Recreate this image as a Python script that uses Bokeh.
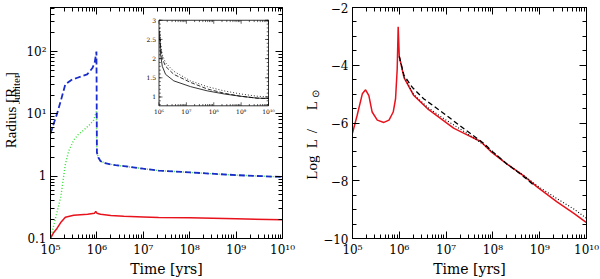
import numpy as np
from bokeh.plotting import figure
from bokeh.layouts import row
from bokeh.models import FixedTicker, LogAxis, LinearAxis, Range1d, LogScale, LinearScale
from bokeh.core.properties import value
from bokeh.embed import file_html
from bokeh.resources import INLINE

# ---------------- data ----------------
x_ticks = [1e5, 1e6, 1e7, 1e8, 1e9, 1e10]
x_tick_labels = ["10⁵", "10⁶", "10⁷", "10⁸", "10⁹", "10¹⁰"]
r_ticks = [0.1, 1.0, 10.0, 100.0]
r_tick_labels = ["0.1", "1", "10¹", "10²"]
l_ticks = [-10, -8, -6, -4, -2]
l_tick_labels = ["−10", "−8", "−6", "−4", "−2"]

# left panel: radius (log10 time, R_Jupiter)
red_r_logt = [5.0, 5.07, 5.14, 5.22, 5.32, 5.5, 5.8, 5.95, 5.975, 6.0, 6.08, 6.3, 6.58, 7.0, 7.33, 8.0, 9.0, 10.0]
red_r_val = [0.10, 0.125, 0.145, 0.18, 0.22, 0.236, 0.245, 0.255, 0.272, 0.255, 0.245, 0.235, 0.227, 0.222, 0.218, 0.215, 0.207, 0.200]

blue_r_logt = [5.0, 5.07, 5.14, 5.23, 5.32, 5.45, 5.58, 5.7, 5.79, 5.9, 5.95, 5.99, 5.995, 6.0, 6.03, 6.08, 6.2, 6.4, 6.58, 7.0, 7.33, 8.0, 9.0, 10.0]
blue_r_val = [4.8, 7.0, 10.0, 17.0, 30.0, 35.0, 38.0, 41.0, 43.0, 54.0, 65.0, 100.0, 20.0, 2.4, 2.0, 1.74, 1.6, 1.5, 1.45, 1.32, 1.23, 1.15, 1.04, 0.97]

green_r_logt = [5.0, 5.1, 5.22, 5.32, 5.39, 5.5, 5.6, 5.72, 5.85, 5.93, 5.99, 5.995, 6.0, 6.03, 6.08, 6.2, 6.4, 6.58, 7.0, 7.33, 8.0, 9.0, 10.0]
green_r_val = [0.10, 0.2, 0.46, 1.55, 2.5, 3.8, 4.7, 5.5, 6.8, 7.9, 11.0, 5.0, 2.4, 2.0, 1.74, 1.6, 1.5, 1.45, 1.32, 1.23, 1.15, 1.04, 0.97]

# inset (log10 time, R_Jupiter)
inset_x_ticks = [1e6, 1e7, 1e8, 1e9, 1e10]
inset_x_labels = ["10⁶", "10⁷", "10⁸", "10⁹", "10¹⁰"]
inset_y_ticks = [1.0, 1.5, 2.0, 2.5, 3.0]
inset_y_labels = ["1", "1.5", "2", "2.5", "3"]
inset_y_min, inset_y_max = 0.77, 3.0
inset_logt = [6.02, 6.06, 6.12, 6.24, 6.54, 7.15, 7.76, 8.37, 8.97, 9.58, 10.0]
inset_solid = [2.6, 2.1, 1.8, 1.59, 1.42, 1.27, 1.16, 1.08, 1.02, 0.97, 0.96]
inset_dashed = [2.7, 2.3, 2.0, 1.80, 1.59, 1.38, 1.21, 1.10, 1.02, 0.97, 0.96]
inset_dotted = [2.8, 2.4, 2.1, 1.89, 1.67, 1.42, 1.27, 1.16, 1.08, 1.02, 1.00]

# right panel: luminosity (log10 time, log L/Lsun)
red_l_logt = [5.0, 5.1, 5.21, 5.28, 5.35, 5.42, 5.53, 5.67, 5.78, 5.87, 5.92, 5.955, 5.976, 6.0, 6.1, 6.31, 6.6,
              6.88, 7.16, 7.45, 7.74, 7.95, 8.31, 8.66, 8.95, 9.37, 9.73, 10.0]
red_l_val = [-6.35, -5.73, -4.99, -4.85, -5.05, -5.62, -5.90, -5.98, -5.90, -5.62, -5.16, -4.14, -2.67, -3.69, -4.43,
             -5.05, -5.50, -5.84, -6.18, -6.41, -6.64, -6.98, -7.43, -7.83, -8.22, -8.73, -9.13, -9.45]
dash_l_logt = [6.0, 6.1, 6.28, 6.52, 6.95, 7.45, 7.8, 8.0, 8.3, 8.6, 8.85]
dash_l_val = [-3.69, -4.35, -4.77, -5.16, -5.67, -6.28, -6.70, -7.00, -7.42, -7.78, -8.12]
dot_l_logt = [6.0, 6.1, 6.3, 6.6, 6.95, 7.45, 7.8, 8.3, 8.66, 8.95, 9.37, 9.73, 10.0]
dot_l_val = [-3.72, -4.40, -5.00, -5.45, -5.85, -6.36, -6.75, -7.42, -7.82, -8.18, -8.62, -8.98, -9.30]

# y-axis titles, split into normal and subscript parts
r_title = ["Radius [R", "Jupiter", "]"]
l_title = ["Log", "L", "/", "L", "⊙"]

# ---------------- styling ----------------
SERIF = "DejaVu Serif"
TSERIF = "Liberation Serif"
RED = "#e8121c"
BLUE = "#1a2ccc"
GREEN = "#30e030"
H = 279
LAB_W = 20


def log_minor(decades):
    return [m * d for d in decades[:-1] for m in range(2, 10)]


def style_axis(ax, ticks, minor, labels=None, show=True):
    ax.ticker = FixedTicker(ticks=ticks, minor_ticks=minor)
    ax.major_tick_in = 7
    ax.major_tick_out = 0
    ax.minor_tick_in = 4
    ax.minor_tick_out = 0
    ax.axis_line_color = "black"
    ax.major_tick_line_color = "black"
    ax.minor_tick_line_color = "black"
    ax.major_label_text_font = SERIF
    ax.major_label_text_color = "black"
    ax.axis_label_text_font = SERIF
    ax.axis_label_text_font_style = "normal"
    ax.axis_label_text_font_size = "14px"
    ax.axis_label_text_color = "black"
    ax.axis_label_standoff = 1
    if show:
        ax.major_label_text_font_size = "12px"
        ax.major_label_standoff = 4
        if labels is not None:
            ax.major_label_overrides = {float(t): s for t, s in zip(ticks, labels)}
    else:
        ax.major_label_text_font_size = "1px"
        ax.major_label_text_alpha = 0
        ax.major_label_standoff = 0


def make_fig(y_type, y_range, bl, br):
    p = figure(width=300 - LAB_W, height=H, x_axis_type="log", y_axis_type=y_type,
               x_range=Range1d(1e5, 1e10), y_range=y_range,
               output_backend="svg", toolbar_location=None,
               min_border_left=bl, min_border_right=br, min_border_top=7, min_border_bottom=37)
    p.grid.visible = False
    p.outline_line_color = "black"
    p.outline_line_width = 1
    p.background_fill_color = "white"
    p.border_fill_color = "white"
    return p


def label_strip(parts, xs, ys, sizes):
    """Narrow strip holding a vertical axis title (pixel coordinates, y measured from top)."""
    s = figure(width=LAB_W, height=H, x_range=Range1d(0, LAB_W), y_range=Range1d(H, 0),
               output_backend="svg", toolbar_location=None,
               min_border_left=0, min_border_right=0, min_border_top=0, min_border_bottom=0)
    s.axis.visible = False
    s.grid.visible = False
    s.outline_line_color = None
    s.border_fill_color = "white"
    for t, x, y, fs in zip(parts, xs, ys, sizes):
        s.text(x=[x], y=[y], text=[t], angle=np.pi / 2, text_font=value(TSERIF), text_font_size=fs,
               text_align="left", text_baseline="middle", text_color="black")
    return s


FW, FH = 232, 235
x_minor = log_minor(x_ticks)

# ---------- left panel ----------
p1 = make_fig("log", Range1d(0.1, 510), 50 - LAB_W, 18)
r_minor = [m * d for d in [0.1, 1.0, 10.0, 100.0] for m in range(2, 10)]
style_axis(p1.xaxis[0], x_ticks, x_minor, x_tick_labels)
p1.xaxis[0].axis_label = "Time [yrs]"
style_axis(p1.yaxis[0], r_ticks, r_minor, r_tick_labels)
top1 = LogAxis()
style_axis(top1, x_ticks, x_minor, show=False)
p1.add_layout(top1, "above")
right1 = LogAxis()
style_axis(right1, r_ticks, r_minor, show=False)
p1.add_layout(right1, "right")

p1.line([10 ** v for v in green_r_logt], green_r_val, line_color=GREEN, line_width=1.4, line_dash="1 2")
p1.line([10 ** v for v in blue_r_logt], blue_r_val, line_color=BLUE, line_width=1.8, line_dash="6 3")
p1.line([10 ** v for v in red_r_logt], red_r_val, line_color=RED, line_width=1.5)

# inset drawn on extra ranges mapped to a sub-box of the frame
box_l, box_r, box_t, box_b = 108.5, 218.0, 13.0, 100.0   # px inside frame
ix0, ix1 = np.log10(inset_x_ticks[0]), np.log10(inset_x_ticks[-1])
dpp = (ix1 - ix0) / (box_r - box_l)
upp = (inset_y_max - inset_y_min) / (box_b - box_t)
p1.extra_x_scales = {"inset": LogScale()}
p1.extra_y_scales = {"inset": LinearScale()}
p1.extra_x_ranges = {"inset": Range1d(10 ** (ix0 - box_l * dpp), 10 ** (ix1 + (FW - box_r) * dpp))}
p1.extra_y_ranges = {"inset": Range1d(inset_y_min - (FH - box_b) * upp, inset_y_max + box_t * upp)}
kw = dict(x_range_name="inset", y_range_name="inset")
p1.quad(left=[inset_x_ticks[0]], right=[inset_x_ticks[-1]], bottom=[inset_y_min], top=[inset_y_max],
        fill_color="white", line_color="black", line_width=0.8, **kw)
ins_t = [10 ** v for v in inset_logt]
p1.line(ins_t, inset_dotted, line_color="black", line_width=0.8, line_dash="1 2", **kw)
p1.line(ins_t, inset_dashed, line_color="black", line_width=0.8, line_dash="4 2", **kw)
p1.line(ins_t, inset_solid, line_color="black", line_width=0.8, **kw)

ins_xminor = log_minor(inset_x_ticks)
ins_yminor = [round(0.8 + 0.1 * k, 2) for k in range(23) if round(0.8 + 0.1 * k, 2) <= inset_y_max]
for xs, ln in ((inset_x_ticks, 3.5), (ins_xminor, 1.8)):
    p1.ray(x=xs, y=[inset_y_min] * len(xs), length=ln, angle=np.pi / 2, length_units="screen",
           line_color="black", line_width=0.6, **kw)
    p1.ray(x=xs, y=[inset_y_max] * len(xs), length=ln, angle=-np.pi / 2, length_units="screen",
           line_color="black", line_width=0.6, **kw)
for ys, ln in ((inset_y_ticks, 3.5), (ins_yminor, 1.8)):
    p1.ray(x=[inset_x_ticks[0]] * len(ys), y=ys, length=ln, angle=0, length_units="screen",
           line_color="black", line_width=0.6, **kw)
    p1.ray(x=[inset_x_ticks[-1]] * len(ys), y=ys, length=ln, angle=np.pi, length_units="screen",
           line_color="black", line_width=0.6, **kw)
p1.text(x=inset_x_ticks, y=[inset_y_min] * len(inset_x_ticks), text=inset_x_labels,
        text_font=value(SERIF), text_font_size="6px", text_align="center", text_baseline="top",
        y_offset=2, text_color="black", **kw)
p1.text(x=[inset_x_ticks[0]] * len(inset_y_ticks), y=inset_y_ticks, text=inset_y_labels,
        text_font=value(SERIF), text_font_size="6px", text_align="right", text_baseline="middle",
        x_offset=-3, text_color="black", **kw)

# ---------- right panel ----------
p2 = make_fig("linear", Range1d(-10, -2), 52 - LAB_W, 14)
l_minor = [t + 0.5 * k for t in l_ticks[:-1] for k in range(1, 4)]
style_axis(p2.xaxis[0], x_ticks, x_minor, x_tick_labels)
p2.xaxis[0].axis_label = "Time [yrs]"
style_axis(p2.yaxis[0], l_ticks, l_minor, l_tick_labels)
top2 = LogAxis()
style_axis(top2, x_ticks, x_minor, show=False)
p2.add_layout(top2, "above")
right2 = LinearAxis()
style_axis(right2, l_ticks, l_minor, show=False)
p2.add_layout(right2, "right")

p2.line([10 ** v for v in red_l_logt], red_l_val, line_color=RED, line_width=1.5)
p2.line([10 ** v for v in dot_l_logt], dot_l_val, line_color="black", line_width=1.1, line_dash="1 2")
p2.line([10 ** v for v in dash_l_logt], dash_l_val, line_color="black", line_width=1.3, line_dash="5 3")

# ---------- axis-title strips (pieces start at these pixel rows) ----------
s1 = label_strip(r_title, [10, 15, 10], [170, 117, 84], ["15px", "11px", "15px"])
s2 = label_strip(l_title, [11, 11, 11, 11, 15], [208, 170, 152, 124, 109],
                 ["15px", "15px", "15px", "15px", "10px"])

layout = row(s1, p1, s2, p2)
open("out.html", "w").write(file_html(layout, INLINE))
